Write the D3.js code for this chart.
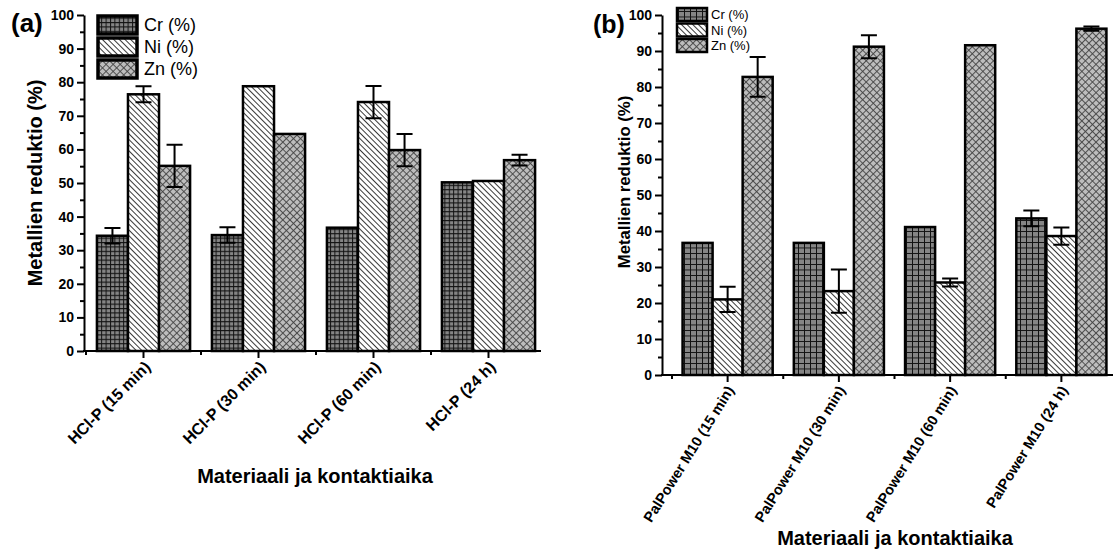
<!DOCTYPE html>
<html><head><meta charset="utf-8">
<script src="https://cdn.jsdelivr.net/npm/d3@7"></script>
<style>body{margin:0;background:#fff} text{font-family:"Liberation Sans",Arial,sans-serif;fill:#000}</style>
</head><body><svg id="c" width="1117" height="551"></svg>
<script>
const series = ["Cr (%)", "Ni (%)", "Zn (%)"];
const categoriesA = ["HCl-P (15 min)", "HCl-P (30 min)", "HCl-P (60 min)", "HCl-P (24 h)"];
const crA = [34.3, 34.5, 36.7, 50.2];
const crAErr = [2.3, 2.3, 0, 0];
const niA = [76.4, 78.8, 74.1, 50.6];
const niAErr = [2.4, 0, 4.8, 0];
const znA = [55.1, 64.6, 59.8, 56.8];
const znAErr = [6.3, 0, 4.8, 1.6];

const categoriesB = ["PalPower M10 (15 min)", "PalPower M10 (30 min)", "PalPower M10 (60 min)", "PalPower M10 (24 h)"];
const crB = [36.7, 36.7, 41.1, 43.5];
const crBErr = [0, 0, 0, 2.2];
const niB = [21.0, 23.3, 25.7, 38.6];
const niBErr = [3.5, 6.0, 1.1, 2.4];
const znB = [82.8, 91.2, 91.6, 96.2];
const znBErr = [5.5, 3.2, 0, 0.6];

const yTicks = [0, 10, 20, 30, 40, 50, 60, 70, 80, 90, 100];
const yMinorTicks = [5, 15, 25, 35, 45, 55, 65, 75, 85, 95];
const xTitle = "Materiaali ja kontaktiaika";
const yTitle = "Metallien reduktio (%)";

const svg = d3.select("#c");
svg.append("rect").attr("width", 1117).attr("height", 551).attr("fill", "#fff");
const defs = svg.append("defs");

function gridPat(id, w, h) {
  const p = defs.append("pattern").attr("id", id).attr("patternUnits", "userSpaceOnUse")
    .attr("width", w).attr("height", h);
  p.append("rect").attr("width", w).attr("height", h).attr("fill", "#858585");
  p.append("path").attr("d", `M0,0.5H${w}M0.5,0V${h}`).attr("stroke", "#111").attr("stroke-width", 1);
}
function diagPat(id, s) {
  const p = defs.append("pattern").attr("id", id).attr("patternUnits", "userSpaceOnUse")
    .attr("width", s).attr("height", s).attr("patternTransform", "rotate(-45)");
  p.append("rect").attr("width", s).attr("height", s).attr("fill", "#fff");
  p.append("path").attr("d", `M0.5,0V${s}`).attr("stroke", "#222").attr("stroke-width", 0.9);
}
function crossPat(id, s) {
  const p = defs.append("pattern").attr("id", id).attr("patternUnits", "userSpaceOnUse")
    .attr("width", s).attr("height", s).attr("patternTransform", "rotate(45)");
  p.append("rect").attr("width", s).attr("height", s).attr("fill", "#bdbdbd");
  p.append("path").attr("d", `M0.5,0V${s}M0,0.5H${s}`).attr("stroke", "#444").attr("stroke-width", 0.9);
}
gridPat("crA", 4.4, 4.4);
gridPat("crB", 6, 5.5);
diagPat("ni", 4);
crossPat("zn", 5);

function panel(cfg) {
  const g = svg.append("g");
  const x = d3.scaleBand().domain(cfg.categories).range(cfg.xRange).paddingInner(0.19).paddingOuter(0.095);
  const xs = d3.scaleBand().domain(series).range([0, x.bandwidth()]);
  const y = d3.scaleLinear().domain([0, 100]).range([cfg.y0, cfg.y100]);
  const pats = {"Cr (%)": cfg.crPat, "Ni (%)": "ni", "Zn (%)": "zn"};
  const data = cfg.categories.flatMap((c, i) => series.map((s, j) => ({c, s, v: cfg.values[j][i], e: cfg.errors[j][i]})));

  g.selectAll("rect.bar").data(data).join("rect").attr("class", "bar")
    .attr("x", d => x(d.c) + xs(d.s)).attr("y", d => y(d.v))
    .attr("width", xs.bandwidth()).attr("height", d => y(0) - y(d.v))
    .attr("fill", d => `url(#${pats[d.s]})`).attr("stroke", "#000").attr("stroke-width", 2.5);

  const ed = data.filter(d => d.e > 0);
  const cx = d => x(d.c) + xs(d.s) + xs.bandwidth() / 2;
  const eg = g.append("g").attr("stroke", "#000").attr("stroke-width", 2).attr("fill", "none");
  eg.selectAll("path").data(ed).join("path")
    .attr("d", d => `M${cx(d)},${y(d.v - d.e)}V${y(d.v + d.e)}M${cx(d) - cfg.cap},${y(d.v + d.e)}H${cx(d) + cfg.cap}M${cx(d) - cfg.cap},${y(d.v - d.e)}H${cx(d) + cfg.cap}`);

  // y axis
  const ya = g.append("g").attr("transform", `translate(${cfg.axisX},0)`)
    .call(d3.axisLeft(y).tickValues(yTicks).tickSize(7).tickSizeOuter(0).tickPadding(3));
  ya.select(".domain").attr("stroke-width", 2);
  ya.selectAll(".tick line").attr("stroke-width", 2);
  ya.selectAll(".tick text").attr("font-size", 14).attr("font-weight", "bold")
    .attr("font-family", "'Liberation Sans', Arial, sans-serif");
  const ym = g.append("g").attr("transform", `translate(${cfg.axisX},0)`)
    .call(d3.axisLeft(y).tickValues(yMinorTicks).tickSize(4).tickFormat(""));
  ym.select(".domain").remove();
  ym.selectAll(".tick line").attr("stroke-width", 2);

  // x axis
  g.append("line").attr("x1", cfg.axisX - 1).attr("x2", cfg.xEnd).attr("y1", y(0)).attr("y2", y(0))
    .attr("stroke", "#000").attr("stroke-width", 2);
  const xa = g.append("g").attr("transform", `translate(0,${y(0)})`)
    .call(d3.axisBottom(x).tickSize(7).tickFormat(""));
  xa.select(".domain").remove();
  xa.selectAll(".tick line").attr("stroke-width", 2);
  const gap = (x.step() - x.bandwidth()) / 2;
  g.append("g").selectAll("line").data(cfg.categories).join("line")
    .attr("x1", d => x(d) - gap).attr("x2", d => x(d) - gap)
    .attr("y1", y(0)).attr("y2", y(0) + 4).attr("stroke", "#000").attr("stroke-width", 2);

  g.append("g").selectAll("text").data(cfg.categories).join("text")
    .attr("transform", d => `translate(${x(d) + x.bandwidth() / 2 + cfg.lblDx},${y(0) + cfg.lblDy}) rotate(${cfg.angle})`)
    .attr("text-anchor", "end").attr("font-size", cfg.lblSize).attr("font-weight", "bold").text(d => d);

  g.append("text").attr("x", cfg.xTitleX).attr("y", cfg.xTitleY).attr("text-anchor", "middle")
    .attr("font-size", 20).attr("font-weight", "bold").text(xTitle);
  g.append("text").attr("transform", `translate(${cfg.yTitleX},${cfg.yTitleY}) rotate(-90)`)
    .attr("text-anchor", "middle").attr("font-size", cfg.yTitleSize).attr("font-weight", "bold").text(yTitle);

  g.append("text").attr("x", cfg.tagX).attr("y", cfg.tagY).attr("font-size", cfg.tagSize)
    .attr("font-weight", "bold").text(cfg.tag);

  // legend
  const lg = g.append("g");
  series.forEach((s, i) => {
    lg.append("rect").attr("x", cfg.legX).attr("y", cfg.legY + i * cfg.legStep)
      .attr("width", cfg.legW).attr("height", cfg.legH)
      .attr("fill", `url(#${pats[s]})`).attr("stroke", "#000").attr("stroke-width", cfg.legStroke);
    lg.append("text").attr("x", cfg.legX + cfg.legW + cfg.legGap).attr("y", cfg.legY + i * cfg.legStep + cfg.legH / 2)
      .attr("dy", "0.35em").attr("font-size", cfg.legSize).text(s);
  });
}

panel({
  categories: categoriesA, values: [crA, niA, znA], errors: [crAErr, niAErr, znAErr],
  xRange: [86, 546], y0: 351, y100: 15, axisX: 84, xEnd: 541, crPat: "crA", cap: 8,
  lblDx: 8, lblDy: 17, angle: -45, lblSize: 16,
  xTitleX: 315, xTitleY: 483, yTitleX: 42, yTitleY: 183, yTitleSize: 20,
  tag: "(a)", tagX: 11, tagY: 32, tagSize: 26,
  legX: 98, legY: 16, legStep: 22, legW: 39, legH: 18, legStroke: 3.5, legGap: 7, legSize: 18
});
panel({
  categories: categoriesB, values: [crB, niB, znB], errors: [crBErr, niBErr, znBErr],
  xRange: [672, 1117], y0: 375, y100: 15, axisX: 662, xEnd: 1113, crPat: "crB", cap: 8,
  lblDx: 7, lblDy: 15, angle: -58, lblSize: 14.5,
  xTitleX: 895, xTitleY: 545, yTitleX: 630, yTitleY: 182, yTitleSize: 16.7,
  tag: "(b)", tagX: 593, tagY: 33, tagSize: 25,
  legX: 677, legY: 8, legStep: 15.5, legW: 30, legH: 13, legStroke: 2.5, legGap: 4, legSize: 13
});
</script></body></html>
